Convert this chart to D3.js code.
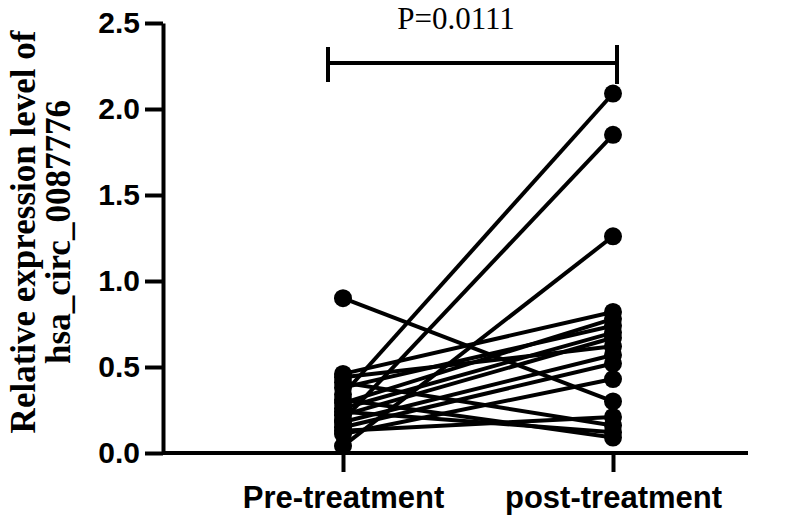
<!DOCTYPE html>
<meta charset="utf-8">
<script src="https://d3js.org/d3.v7.min.js"></script>
<style>
  body { margin: 0; background: #fff; }
</style>
<div id="my_dataviz"></div>
<script>

  // data (paired samples, same index = same patient)
  var groups = ["Pre-treatment", "post-treatment"];
  var preValues  = [0.90, 0.34, 0.19, 0.04, 0.46, 0.44, 0.41, 0.38, 0.31, 0.29, 0.26, 0.24, 0.22, 0.18, 0.15, 0.13, 0.11];
  var postValues = [0.30, 2.09, 1.85, 1.26, 0.82, 0.62, 0.16, 0.74, 0.09, 0.78, 0.70, 0.12, 0.67, 0.57, 0.52, 0.21, 0.43];
  var yTicks = [0, 0.5, 1.0, 1.5, 2.0, 2.5];
  var pLabel = "P=0.0111";
  var yTitle = ["Relative expression level of", "hsa_circ_0087776"];

  var margin = {top: 23, right: 52, bottom: 64, left: 163},
    width = 800 - margin.left - margin.right,
    height = 517 - margin.top - margin.bottom;

  var svg = d3.select("#my_dataviz")
    .append("svg")
      .attr("width", 800)
      .attr("height", 517)
    .append("g")
      .attr("transform", "translate(" + margin.left + "," + margin.top + ")");

  var y = d3.scaleLinear()
    .domain([0, 2.5])
    .range([height, 0]);

  var x = d3.scalePoint()
    .domain(groups)
    .range([180, 450]);

  // y axis
  var yAxis = svg.append("g")
    .call(d3.axisLeft(y).tickValues(yTicks).tickFormat(d3.format(".1f"))
      .tickSize(18).tickSizeOuter(0).tickPadding(5));
  yAxis.select(".domain").attr("stroke-width", 4);
  yAxis.selectAll(".tick line").attr("stroke-width", 4);
  yAxis.selectAll(".tick text")
    .style("font-family", "Liberation Sans, Arial, sans-serif")
    .style("font-weight", "bold")
    .style("font-size", "30px")
    .attr("fill", "#000");

  // x axis
  var xAxis = svg.append("g")
    .attr("transform", "translate(0," + height + ")")
    .call(d3.axisBottom(x).tickSize(19).tickPadding(14));
  xAxis.select(".domain").remove();
  xAxis.selectAll(".tick line").attr("stroke-width", 4);
  xAxis.selectAll(".tick text")
    .style("font-family", "Liberation Sans, Arial, sans-serif")
    .style("font-weight", "bold")
    .style("font-size", "31px")
    .attr("fill", "#000");
  svg.append("line")
    .attr("x1", 0).attr("x2", width)
    .attr("y1", y(0)).attr("y2", y(0))
    .attr("stroke", "#000")
    .attr("stroke-width", 4);

  // paired lines
  svg.selectAll("pairLine")
    .data(preValues)
    .enter()
    .append("line")
      .attr("x1", x(groups[0]))
      .attr("x2", x(groups[1]))
      .attr("y1", function(d) { return y(d); })
      .attr("y2", function(d, i) { return y(postValues[i]); })
      .attr("stroke", "#000")
      .attr("stroke-width", 4);

  // points
  svg.selectAll("prePoint")
    .data(preValues)
    .enter()
    .append("circle")
      .attr("cx", x(groups[0]))
      .attr("cy", function(d) { return y(d); })
      .attr("r", 9)
      .attr("fill", "#000");
  svg.selectAll("postPoint")
    .data(postValues)
    .enter()
    .append("circle")
      .attr("cx", x(groups[1]))
      .attr("cy", function(d) { return y(d); })
      .attr("r", 9)
      .attr("fill", "#000");

  // significance bracket
  var bx1 = x(groups[0]) - 15, bx2 = x(groups[1]) + 4, by = 40;
  svg.append("path")
    .attr("d", "M" + bx1 + "," + (by - 16) + "V" + (by + 19) +
               "M" + bx1 + "," + by + "H" + bx2 +
               "M" + bx2 + "," + (by - 18) + "V" + (by + 21))
    .attr("fill", "none")
    .attr("stroke", "#000")
    .attr("stroke-width", 4);
  svg.append("text")
    .attr("x", 456 - margin.left)
    .attr("y", 29 - margin.top)
    .attr("text-anchor", "middle")
    .style("font-family", "Liberation Serif, Times New Roman, serif")
    .style("font-size", "31px")
    .text(pLabel);

  // y axis title, two lines
  svg.append("text")
    .attr("transform", "translate(" + (35 - margin.left) + "," + (232 - margin.top) + ") rotate(-90)")
    .attr("text-anchor", "middle")
    .style("font-family", "Liberation Serif, Times New Roman, serif")
    .style("font-weight", "bold")
    .style("font-size", "35px")
    .selectAll("tspan")
    .data(yTitle)
    .enter()
    .append("tspan")
      .attr("x", 0)
      .attr("dy", function(d, i) { return i === 0 ? 0 : 35; })
      .text(function(d) { return d; });

</script>
